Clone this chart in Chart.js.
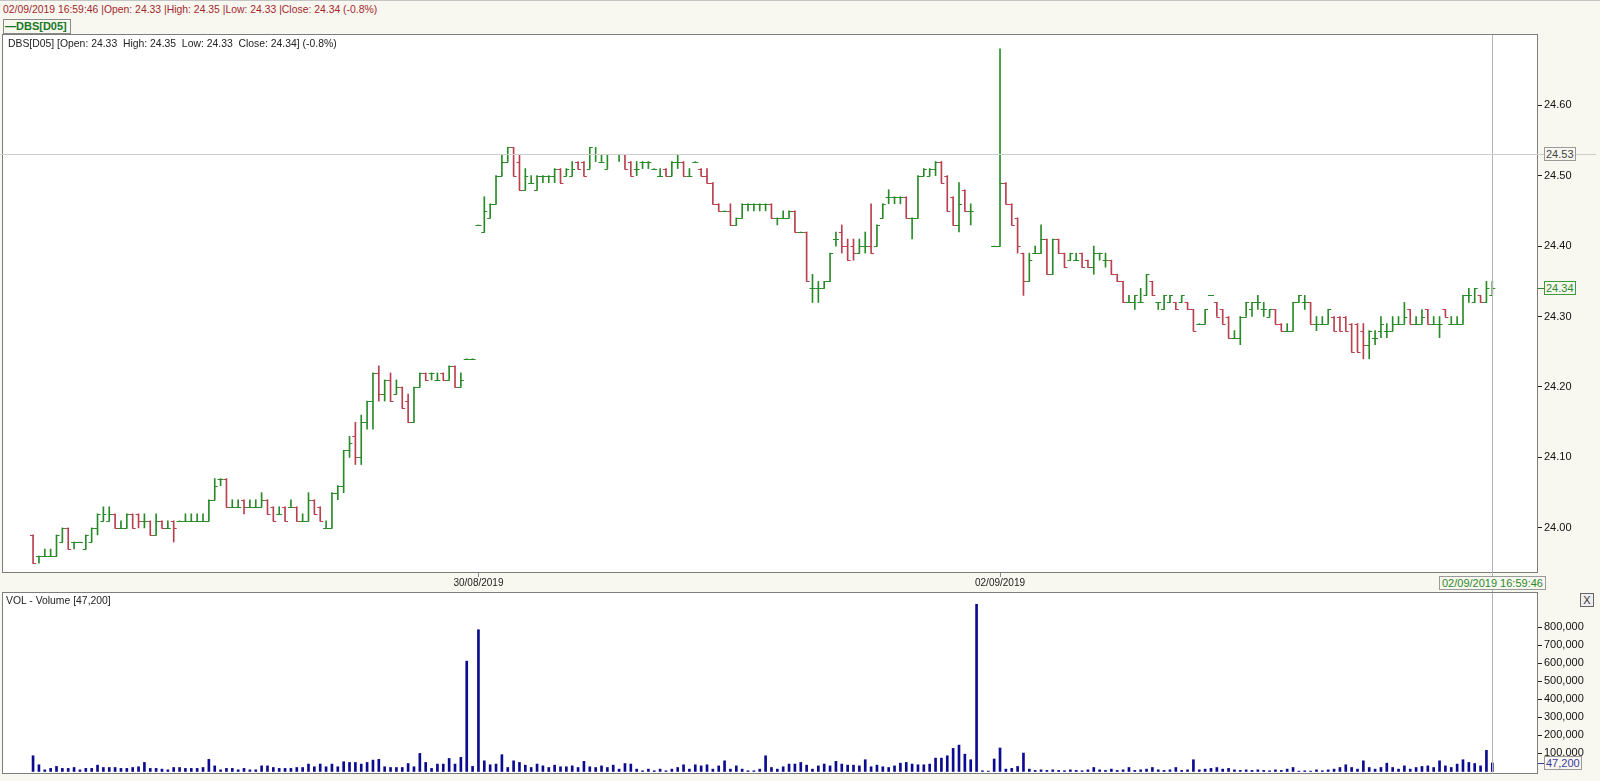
<!DOCTYPE html>
<html>
<head>
<meta charset="utf-8">
<script src="https://cdn.jsdelivr.net/npm/chart.js@4.4.1/dist/chart.umd.min.js"></script>
<style>
  html, body { margin: 0; padding: 0; width: 1600px; height: 781px; overflow: hidden; background: #f8f7f0; font-family: "Liberation Sans", Arial, sans-serif; }
  .abs { position: absolute; white-space: nowrap; }
  #topLine { left: 0; top: 0; width: 1600px; height: 1px; background: #c4c4c4; }
  #header { left: 3px; top: 4px; font-size: 10.4px; line-height: 12px; color: #a3282c; }
  #legend { left: 3px; top: 19px; height: 13px; border: 1px solid #8a8a8a; padding: 0 3px 0 1px; font-size: 11px; line-height: 13px; font-weight: bold; color: #17781f; }
  #innerTitle { left: 8px; top: 38px; font-size: 10.4px; line-height: 12px; color: #222; }
  #volTitle { left: 6px; top: 595px; font-size: 10.4px; line-height: 12px; color: #222; }
  .box { font-size: 11px; line-height: 12px; border: 1px solid #9a9a9a; background: #f8f7f0; padding: 0 1px; }
  #prevBox { color: #444; }
  #lastBox { color: #2b8a2b; border-color: #3f9a3f; }
  #dateBox { color: #2b8a2b; padding: 0 2px; }
  #volBox { color: #3b3b9e; }
  #closeBtn { left: 1580px; top: 593px; width: 12px; height: 12px; border: 1px solid #666; font-size: 11px; line-height: 12px; text-align: center; color: #333; background: #eee; }
  canvas { position: absolute; left: 0; }
  #price { top: 34px; }
  #vol { top: 592px; }
</style>
</head>
<body>
<div id="topLine" class="abs"></div>
<div id="header" class="abs">02/09/2019 16:59:46 |Open: 24.33 |High: 24.35 |Low: 24.33 |Close: 24.34 (-0.8%)</div>
<div id="legend" class="abs">&#8212;DBS[D05]</div>
<canvas id="price" width="1600" height="558"></canvas>
<canvas id="vol" width="1600" height="182"></canvas>
<div id="innerTitle" class="abs">DBS[D05] [Open: 24.33&nbsp; High: 24.35&nbsp; Low: 24.33&nbsp; Close: 24.34] (-0.8%)</div>
<div id="volTitle" class="abs">VOL - Volume [47,200]</div>
<div id="prevBox" class="abs box">24.53</div>
<div id="lastBox" class="abs box">24.34</div>
<div id="dateBox" class="abs box">02/09/2019 16:59:46</div>
<div id="volBox" class="abs box">47,200</div>
<div id="closeBtn" class="abs">X</div>

<script>
// ---------- data (5-minute bars, 29/08 - 02/09/2019) ----------
const opens = [
  23.99,23.96,23.96,23.96,23.96,23.98,24.00,23.98,23.98,23.97,
  23.98,24.00,24.01,24.01,24.02,24.00,24.00,24.02,24.02,24.01,
  24.01,23.99,24.01,24.00,24.01,24.01,24.01,24.01,24.01,24.01,
  24.01,24.04,24.07,24.07,24.03,24.03,24.04,24.03,24.03,24.03,
  24.04,24.03,24.02,24.03,24.03,24.03,24.01,24.01,24.04,24.03,
  24.00,24.00,24.05,24.06,24.11,24.13,24.10,24.15,24.18,24.22,
  24.19,24.21,24.19,24.20,24.18,24.15,24.20,24.22,24.22,24.21,
  24.22,24.21,24.23,24.20,24.24,24.24,24.43,24.42,24.44,24.46,
  24.50,24.52,24.54,24.52,24.48,24.49,24.48,24.50,24.50,24.50,
  24.51,24.50,24.50,24.52,24.52,24.51,24.53,24.52,24.51,24.53,
  24.53,24.53,24.52,24.51,24.52,24.52,24.51,24.50,24.51,24.50,
  24.52,24.52,24.50,24.52,24.51,24.50,24.49,24.46,24.45,24.45,
  24.43,24.44,24.46,24.46,24.46,24.46,24.46,24.44,24.44,24.44,
  24.45,24.42,24.42,24.34,24.34,24.34,24.35,24.41,24.42,24.40,
  24.40,24.39,24.40,24.40,24.40,24.44,24.47,24.47,24.47,24.47,
  24.44,24.44,24.50,24.50,24.51,24.52,24.50,24.47,24.43,24.48,
  24.45,24.53,24.53,24.53,24.40,24.40,24.49,24.46,24.44,24.39,
  24.35,24.39,24.39,24.41,24.36,24.41,24.39,24.38,24.38,24.39,
  24.38,24.37,24.39,24.38,24.38,24.36,24.35,24.32,24.32,24.32,
  24.33,24.35,24.32,24.31,24.32,24.32,24.32,24.32,24.31,24.29,
  24.29,24.33,24.32,24.31,24.30,24.27,24.27,24.30,24.31,24.32,
  24.31,24.30,24.31,24.29,24.28,24.28,24.32,24.32,24.32,24.29,
  24.29,24.29,24.30,24.30,24.30,24.29,24.29,24.28,24.26,24.27,
  24.28,24.28,24.28,24.29,24.29,24.31,24.29,24.29,24.31,24.29,
  24.29,24.31,24.29,24.29,24.29,24.33,24.32,24.33,24.32,24.33
];
const highs = [
  23.99,23.96,23.97,23.97,23.99,24.00,24.00,23.98,23.98,23.99,
  24.00,24.02,24.03,24.03,24.02,24.01,24.02,24.02,24.02,24.02,
  24.01,24.02,24.01,24.01,24.01,24.01,24.02,24.02,24.02,24.02,
  24.04,24.07,24.07,24.07,24.04,24.04,24.04,24.04,24.04,24.05,
  24.04,24.03,24.03,24.03,24.04,24.03,24.02,24.05,24.04,24.03,
  24.01,24.05,24.06,24.11,24.13,24.15,24.16,24.18,24.22,24.23,
  24.21,24.22,24.21,24.20,24.19,24.20,24.22,24.22,24.22,24.22,
  24.22,24.23,24.23,24.22,24.24,24.24,24.43,24.47,24.46,24.50,
  24.53,24.54,24.54,24.53,24.51,24.50,24.50,24.50,24.50,24.51,
  24.51,24.51,24.52,24.52,24.52,24.54,24.54,24.53,24.53,24.53,
  24.53,24.53,24.52,24.52,24.52,24.52,24.51,24.51,24.51,24.52,
  24.53,24.52,24.51,24.52,24.51,24.51,24.49,24.46,24.45,24.46,
  24.44,24.46,24.46,24.46,24.46,24.46,24.46,24.44,24.45,24.45,
  24.45,24.42,24.42,24.36,24.35,24.35,24.39,24.42,24.43,24.41,
  24.41,24.41,24.42,24.46,24.43,24.46,24.48,24.47,24.47,24.47,
  24.44,24.50,24.51,24.51,24.52,24.52,24.50,24.47,24.49,24.48,
  24.46,24.53,24.53,24.53,24.40,24.68,24.49,24.46,24.44,24.39,
  24.39,24.40,24.43,24.41,24.41,24.41,24.39,24.39,24.39,24.39,
  24.38,24.40,24.39,24.39,24.38,24.36,24.35,24.33,24.33,24.34,
  24.36,24.35,24.32,24.33,24.33,24.32,24.33,24.32,24.31,24.29,
  24.31,24.33,24.32,24.31,24.30,24.28,24.30,24.32,24.32,24.33,
  24.32,24.31,24.31,24.29,24.29,24.32,24.33,24.33,24.32,24.30,
  24.30,24.31,24.30,24.30,24.30,24.29,24.29,24.29,24.28,24.28,
  24.30,24.29,24.30,24.30,24.32,24.31,24.30,24.31,24.31,24.30,
  24.30,24.31,24.30,24.30,24.33,24.34,24.34,24.33,24.35,24.35
];
const lows = [
  23.95,23.95,23.96,23.96,23.96,23.98,23.97,23.97,23.98,23.97,
  23.98,23.99,24.01,24.01,24.00,24.00,24.00,24.00,24.00,24.00,
  23.99,23.99,24.00,24.00,23.98,24.01,24.01,24.01,24.01,24.01,
  24.01,24.04,24.06,24.03,24.03,24.03,24.02,24.03,24.03,24.03,
  24.02,24.01,24.02,24.01,24.03,24.01,24.01,24.01,24.02,24.01,
  24.00,24.00,24.04,24.05,24.10,24.09,24.09,24.14,24.14,24.18,
  24.18,24.18,24.19,24.17,24.15,24.15,24.20,24.21,24.21,24.21,
  24.21,24.21,24.20,24.20,24.24,24.24,24.43,24.42,24.44,24.46,
  24.50,24.52,24.50,24.48,24.48,24.49,24.48,24.49,24.49,24.49,
  24.49,24.50,24.50,24.51,24.50,24.51,24.52,24.52,24.51,24.53,
  24.52,24.51,24.50,24.50,24.51,24.51,24.51,24.50,24.50,24.50,
  24.51,24.50,24.50,24.52,24.50,24.49,24.46,24.45,24.45,24.43,
  24.43,24.44,24.45,24.45,24.45,24.45,24.44,24.43,24.44,24.44,
  24.42,24.42,24.35,24.32,24.32,24.34,24.35,24.40,24.39,24.38,
  24.38,24.39,24.39,24.39,24.40,24.44,24.46,24.46,24.46,24.44,
  24.41,24.44,24.50,24.50,24.50,24.49,24.45,24.43,24.42,24.45,
  24.43,24.53,24.53,24.53,24.40,24.40,24.46,24.43,24.39,24.33,
  24.35,24.39,24.39,24.36,24.36,24.39,24.37,24.38,24.38,24.37,
  24.37,24.36,24.38,24.37,24.36,24.35,24.32,24.32,24.31,24.32,
  24.33,24.33,24.31,24.31,24.32,24.31,24.32,24.31,24.28,24.29,
  24.29,24.33,24.30,24.29,24.27,24.27,24.26,24.30,24.30,24.31,
  24.30,24.30,24.29,24.28,24.28,24.28,24.32,24.31,24.29,24.28,
  24.29,24.29,24.28,24.28,24.28,24.25,24.25,24.24,24.24,24.26,
  24.27,24.27,24.28,24.29,24.29,24.29,24.29,24.29,24.29,24.29,
  24.27,24.30,24.29,24.29,24.29,24.32,24.32,24.32,24.32,24.33
];
const closes = [
  23.95,23.96,23.96,23.96,23.99,24.00,23.97,23.98,23.98,23.99,
  24.00,24.02,24.02,24.02,24.00,24.00,24.02,24.00,24.01,24.01,
  23.99,24.01,24.00,24.00,24.00,24.01,24.01,24.01,24.01,24.01,
  24.04,24.06,24.07,24.03,24.03,24.03,24.03,24.03,24.03,24.04,
  24.02,24.01,24.02,24.01,24.03,24.01,24.01,24.04,24.02,24.01,
  24.00,24.05,24.06,24.11,24.12,24.10,24.15,24.18,24.22,24.19,
  24.21,24.18,24.20,24.17,24.15,24.20,24.22,24.21,24.22,24.21,
  24.21,24.23,24.20,24.21,24.24,24.24,24.43,24.45,24.46,24.50,
  24.52,24.54,24.50,24.48,24.50,24.49,24.50,24.50,24.50,24.51,
  24.49,24.51,24.51,24.51,24.50,24.54,24.53,24.52,24.53,24.53,
  24.53,24.51,24.50,24.51,24.52,24.52,24.51,24.50,24.50,24.52,
  24.52,24.50,24.50,24.52,24.50,24.49,24.46,24.45,24.45,24.43,
  24.44,24.46,24.46,24.46,24.46,24.46,24.44,24.44,24.44,24.45,
  24.42,24.42,24.35,24.34,24.34,24.35,24.39,24.41,24.40,24.38,
  24.39,24.40,24.40,24.39,24.43,24.46,24.47,24.47,24.47,24.44,
  24.44,24.50,24.51,24.51,24.52,24.49,24.45,24.43,24.46,24.45,
  24.45,24.53,24.53,24.53,24.40,24.49,24.46,24.43,24.40,24.35,
  24.38,24.39,24.41,24.36,24.41,24.39,24.37,24.39,24.38,24.37,
  24.37,24.39,24.39,24.38,24.36,24.35,24.32,24.32,24.33,24.32,
  24.36,24.33,24.32,24.33,24.33,24.31,24.33,24.31,24.28,24.29,
  24.31,24.33,24.30,24.29,24.27,24.27,24.30,24.32,24.32,24.32,
  24.31,24.31,24.29,24.28,24.28,24.32,24.33,24.32,24.29,24.29,
  24.29,24.31,24.28,24.28,24.28,24.25,24.25,24.26,24.28,24.27,
  24.29,24.28,24.29,24.29,24.30,24.29,24.29,24.30,24.29,24.29,
  24.29,24.30,24.29,24.29,24.33,24.33,24.34,24.32,24.34,24.34
];
const volumes = [
  87000,37000,9000,17000,28000,17000,17000,22000,9000,17000,
  17000,35000,22000,22000,22000,17000,17000,22000,26000,50000,
  17000,17000,13000,9000,22000,22000,17000,17000,17000,22000,
  67000,31000,9000,17000,17000,9000,17000,9000,9000,31000,
  31000,22000,17000,17000,17000,22000,22000,41000,26000,41000,
  26000,41000,26000,54000,50000,50000,41000,50000,63000,67000,
  26000,22000,22000,22000,44000,26000,100000,50000,17000,41000,
  41000,72000,41000,78000,611000,28000,785000,59000,37000,41000,
  93000,22000,59000,50000,35000,22000,41000,31000,22000,35000,
  26000,26000,31000,22000,56000,26000,22000,31000,22000,35000,
  13000,44000,41000,13000,4000,13000,4000,13000,4000,13000,
  22000,37000,13000,37000,31000,37000,13000,31000,59000,13000,
  31000,13000,4000,4000,13000,87000,22000,13000,26000,41000,
  41000,50000,35000,13000,31000,41000,31000,56000,41000,35000,
  35000,31000,65000,26000,35000,26000,22000,31000,46000,50000,
  41000,37000,37000,41000,74000,74000,87000,128000,146000,96000,
  65000,926000,4000,2000,69000,130000,13000,17000,28000,102000,
  13000,6000,9000,6000,9000,6000,4000,9000,6000,4000,
  9000,22000,9000,6000,13000,6000,9000,22000,6000,9000,
  13000,22000,9000,6000,9000,22000,6000,9000,65000,9000,
  13000,17000,22000,13000,17000,9000,6000,9000,6000,9000,
  6000,4000,9000,6000,13000,22000,2000,4000,2000,9000,
  4000,9000,13000,22000,37000,22000,13000,59000,22000,13000,
  22000,46000,22000,13000,31000,13000,22000,28000,31000,22000,
  59000,31000,22000,41000,65000,50000,44000,31000,117000,47200
];
const dateTickIdx = [76, 165];
const dateTickLabels = ["30/08/2019", "02/09/2019"];
const priceTicks = [24.00, 24.10, 24.20, 24.30, 24.40, 24.50, 24.60];
const volumeTicks = [100000, 200000, 300000, 400000, 500000, 600000, 700000, 800000];
const prevClose = 24.53;

// ---------- view settings ----------
const N = closes.length;
const X_MIN = -5.3, X_MAX = 256.8;
const Y_MIN = 23.936, Y_MAX = 24.701;
const V_MIN = -14000, V_MAX = 994000;
const UP = "#2a8a2a", DOWN = "#b8404f";
const FONT = "'Liberation Sans', Arial, sans-serif";
const PRICE_TOP = 34, VOL_TOP = 592;

const isUp = closes.map((c, i) => c >= opens[i]);
const barColors = isUp.map(u => u ? UP : DOWN);

// chart area white + grey frame
const framePlugin = {
  id: "frame",
  beforeDraw(chart) {
    const a = chart.chartArea, ctx = chart.ctx;
    ctx.save();
    ctx.fillStyle = "#ffffff";
    ctx.fillRect(a.left, a.top, a.right - a.left, a.bottom - a.top);
    ctx.restore();
  },
  afterDraw(chart) {
    const a = chart.chartArea, ctx = chart.ctx;
    ctx.save();
    ctx.strokeStyle = "#7d7d7d";
    ctx.lineWidth = 1;
    ctx.strokeRect(a.left + 0.5, a.top + 0.5, a.right - a.left - 1, a.bottom - a.top - 1);
    ctx.restore();
  }
};

// open tick on the left, close tick on the right
const ohlcTicks = {
  id: "ohlcTicks",
  afterDatasetsDraw(chart) {
    const xs = chart.scales.x, ys = chart.scales.y, ctx = chart.ctx;
    ctx.save();
    ctx.lineWidth = 1;
    for (let i = 0; i < N; i++) {
      const x = xs.getPixelForValue(i);
      const yo = Math.round(ys.getPixelForValue(opens[i])) + 0.5;
      const yc = Math.round(ys.getPixelForValue(closes[i])) + 0.5;
      ctx.strokeStyle = barColors[i];
      ctx.beginPath();
      ctx.moveTo(x - 3, yo); ctx.lineTo(x + 0.5, yo);
      ctx.moveTo(x - 0.5, yc); ctx.lineTo(x + 3, yc);
      ctx.stroke();
    }
    ctx.restore();
  }
};

// crosshair lines
function crossPlugin(withPrice) {
  return {
    id: "cross" + (withPrice ? "P" : "V"),
    afterDraw(chart) {
      const ctx = chart.ctx, a = chart.chartArea;
      const x = Math.round(chart.scales.x.getPixelForValue(N - 1)) + 0.5;
      ctx.save();
      ctx.lineWidth = 1;
      ctx.strokeStyle = "#b4b4b4";
      ctx.beginPath();
      ctx.moveTo(x, a.top + 1);
      ctx.lineTo(x, chart.height);
      ctx.stroke();
      if (withPrice) {
        const y = Math.round(chart.scales.y.getPixelForValue(prevClose)) + 0.5;
        ctx.strokeStyle = "#cdcdcd";
        ctx.beginPath();
        ctx.moveTo(0, y); ctx.lineTo(1596, y);
        ctx.stroke();
        const yl = Math.round(chart.scales.y.getPixelForValue(closes[N - 1])) + 0.5;
        ctx.strokeStyle = UP;
        ctx.beginPath();
        ctx.moveTo(a.right, yl); ctx.lineTo(a.right + 6, yl);
        ctx.stroke();
      } else {
        const yv = Math.round(chart.scales.y.getPixelForValue(volumes[N - 1])) + 0.5;
        ctx.strokeStyle = "#3b3b9e";
        ctx.beginPath();
        ctx.moveTo(a.right, yv); ctx.lineTo(a.right + 6, yv);
        ctx.stroke();
      }
      ctx.restore();
    }
  };
}

function noPad(s) { s.paddingTop = 0; s.paddingBottom = 0; s.paddingLeft = 0; s.paddingRight = 0; }

const priceChart = new Chart(document.getElementById("price"), {
  type: "bar",
  data: {
    datasets: [{
      data: highs.map((h, i) => ({ x: i, y: [lows[i], h] })),
      backgroundColor: barColors,
      borderWidth: 0,
      barThickness: 1
    }]
  },
  options: {
    responsive: false,
    animation: false,
    events: [],
    layout: { padding: { left: 2, right: 0, top: 0, bottom: 0 } },
    plugins: { legend: { display: false }, tooltip: { enabled: false } },
    scales: {
      x: {
        type: "linear", min: X_MIN, max: X_MAX, offset: false,
        grid: { drawOnChartArea: false, offset: false, tickLength: 4, color: "#8a8a8a" },
        border: { display: false },
        afterBuildTicks: s => { s.ticks = dateTickIdx.map(v => ({ value: v })); },
        ticks: {
          autoSkip: false, maxRotation: 0, padding: 0, color: "#222",
          font: { family: FONT, size: 10 },
          callback: v => dateTickLabels[dateTickIdx.indexOf(v)]
        },
        afterFit: s => { s.height = 19; noPad(s); }
      },
      y: {
        position: "right", min: Y_MIN, max: Y_MAX,
        grid: { drawOnChartArea: false, tickLength: 4, color: "#222" },
        border: { display: false },
        afterBuildTicks: s => { s.ticks = priceTicks.map(v => ({ value: v })); },
        ticks: { padding: 2, color: "#111", font: { family: FONT, size: 11 }, callback: v => v.toFixed(2) },
        afterFit: s => { s.width = 62; noPad(s); }
      }
    }
  },
  plugins: [framePlugin, ohlcTicks, crossPlugin(true)]
});

const volChart = new Chart(document.getElementById("vol"), {
  type: "bar",
  data: {
    datasets: [{
      data: volumes.map((v, i) => ({ x: i, y: v })),
      backgroundColor: "#0b0b8f",
      borderWidth: 0,
      barThickness: 2
    }]
  },
  options: {
    responsive: false,
    animation: false,
    events: [],
    layout: { padding: { left: 2, right: 0, top: 0, bottom: 0 } },
    plugins: { legend: { display: false }, tooltip: { enabled: false } },
    scales: {
      x: { type: "linear", min: X_MIN, max: X_MAX, offset: false, display: false },
      y: {
        position: "right", min: V_MIN, max: V_MAX,
        grid: { drawOnChartArea: false, tickLength: 4, color: "#222" },
        border: { display: false },
        afterBuildTicks: s => { s.ticks = volumeTicks.map(v => ({ value: v })); },
        ticks: { padding: 2, color: "#111", font: { family: FONT, size: 11 }, callback: v => v.toLocaleString("en-US") },
        afterFit: s => { s.width = 62; noPad(s); }
      }
    }
  },
  plugins: [framePlugin, crossPlugin(false)]
});

// place the value boxes on the scales
function place(id, left, centerY) {
  const el = document.getElementById(id);
  el.style.left = left + "px";
  el.style.top = Math.round(centerY - el.offsetHeight / 2) + "px";
}
const py = priceChart.scales.y, px = priceChart.scales.x, vy = volChart.scales.y;
const rightEdge = priceChart.chartArea.right;
place("prevBox", rightEdge + 6, PRICE_TOP + py.getPixelForValue(prevClose));
place("lastBox", rightEdge + 6, PRICE_TOP + py.getPixelForValue(closes[N - 1]));
place("volBox", rightEdge + 6, VOL_TOP + vy.getPixelForValue(volumes[N - 1]));
const db = document.getElementById("dateBox");
db.style.left = Math.round(px.getPixelForValue(N - 1) - db.offsetWidth / 2) + "px";
db.style.top = (PRICE_TOP + priceChart.chartArea.bottom + 3) + "px";
</script>
</body>
</html>
